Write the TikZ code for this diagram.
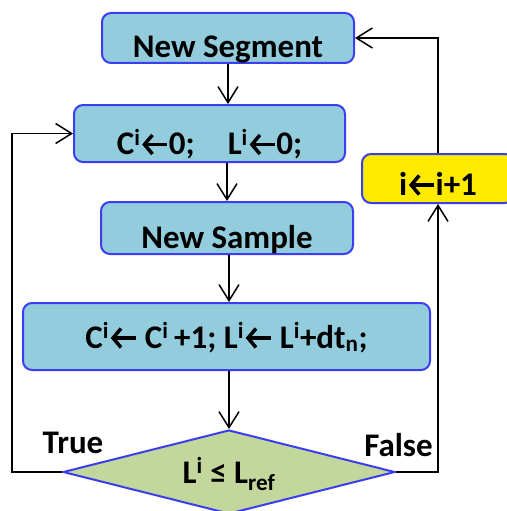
\documentclass[tikz,border=0pt]{standalone}
\usepackage{fontspec}
\setmainfont{Carlito}
\usepackage{xcolor}
\usepackage{tikz}
\usetikzlibrary{shapes.geometric, arrows.meta}
\definecolor{boxfill}{RGB}{147,205,221}
\definecolor{boxedge}{RGB}{58,62,238}
\definecolor{incfill}{RGB}{255,234,0}
\definecolor{testfill}{RGB}{195,214,155}
\newcommand{\assignto}{\tikz[baseline=-10pt]
  \draw[line width=3.5pt, {Straight Barb[length=8pt,width=19pt]}-] (0pt,0pt) -- (25pt,0pt);}

\begin{document}
\begin{tikzpicture}[x=1pt, y=-1pt, >={Straight Barb[length=16pt,width=20pt]}, line width=1.5pt,
    bigtext/.style={font=\fontsize{33}{39}\selectfont\bfseries},
    box/.style={bigtext, draw=boxedge, line width=2pt, fill=boxfill, rounded corners=9pt,
      inner sep=0pt, text depth=0pt, text height=38pt},
    test/.style={diamond, draw=boxedge, line width=2pt, fill=testfill,
      inner sep=0pt, minimum width=332pt, minimum height=84pt}]
  \useasboundingbox (0,0) rectangle (506,511);
  \node[box, minimum width=252pt, minimum height=50pt] (seg) at (228,38) {New Segment};
  \node[box, minimum width=271pt, minimum height=57pt, text height=42pt] (init) at (209.5,133.5)
        {C\textsuperscript{i}\assignto0;\quad L\textsuperscript{i}\assignto0;};
  \node[box, minimum width=252pt, minimum height=52pt, text height=40pt] (samp) at (227,228) {New Sample};
  \node[box, minimum width=407pt, minimum height=67pt, text height=23pt] (upd) at (226.5,336.5)
        {C\textsuperscript{i}\assignto\ C\textsuperscript{i}\,+1; L\textsuperscript{i}\assignto\ L\textsuperscript{i}+dt\textsubscript{n};};
  \node[box, fill=incfill, minimum width=152pt, minimum height=49pt, text height=33pt] (inc) at (438,178.5)
        {i\assignto i+1};
  \node[test] (cond) at (229,472) {};
  \node[bigtext, anchor=base, yshift=-11pt] (condtxt) at (cond.center) {L\textsuperscript{i} ≤ L\textsubscript{ref}};
  \node[bigtext, anchor=base] (yes) at (73,453) {True};
  \node[bigtext, anchor=base] (no) at (398.5,456) {False};
  \coordinate (back) at (12,472);
  \coordinate (fwd) at (438,472);

  \draw[->] (seg.south) -- (seg.south |- init.north);
  \draw[->] (samp.north |- init.south) -- (samp.north);
  \draw[->] (cond.north |- samp.south) -- (cond.north |- upd.north);
  \draw[->] (cond.north |- upd.south) -- (cond.north);
  \draw[->] (cond.west) -- (back) |- (init.west);
  \draw[->] (cond.east) -- (fwd) -- (inc.south);
  \draw[->] (inc.north) |- (seg.east);
\end{tikzpicture}
\end{document}
